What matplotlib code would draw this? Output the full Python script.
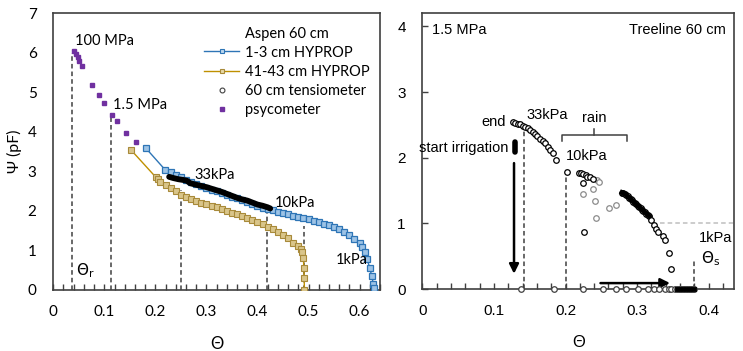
import matplotlib
matplotlib.use('Agg')
import matplotlib.pyplot as plt
from matplotlib.ticker import MultipleLocator

plt.rcParams['font.family'] = ['Lato', 'DejaVu Sans']
plt.rcParams['mathtext.fontset'] = 'dejavusans'

# ---------------- left panel data (Aspen 60 cm) ----------------
psy_theta = [0.0405, 0.0444, 0.0477, 0.0509, 0.0556, 0.075, 0.0888, 0.0986,
             0.116, 0.125, 0.142, 0.162]
psy_pf = [6.05, 5.96, 5.88, 5.79, 5.65, 5.19, 4.92, 4.72, 4.43, 4.26, 3.97, 3.75]

blue_theta = [0.181, 0.219, 0.23, 0.24, 0.25, 0.26, 0.27, 0.28, 0.29, 0.30, 0.31,
              0.32, 0.33, 0.34, 0.35, 0.36, 0.37, 0.38, 0.39, 0.40, 0.41, 0.42,
              0.43, 0.44, 0.45, 0.46, 0.47, 0.48, 0.49, 0.50, 0.51, 0.52, 0.53,
              0.54, 0.55, 0.56, 0.57, 0.58, 0.59, 0.60, 0.605, 0.61, 0.615,
              0.62, 0.624, 0.627, 0.629]
blue_pf = [3.59, 3.04, 2.97, 2.91, 2.85, 2.79, 2.74, 2.69, 2.64, 2.59, 2.54,
           2.50, 2.45, 2.41, 2.36, 2.32, 2.27, 2.22, 2.17, 2.12, 2.08, 2.04,
           2.01, 1.97, 1.94, 1.91, 1.88, 1.85, 1.82, 1.79, 1.75, 1.72, 1.68,
           1.64, 1.60, 1.54, 1.47, 1.38, 1.28, 1.18, 1.08, 0.95, 0.78,
           0.55, 0.35, 0.15, 0.05]

gold_theta = [0.153, 0.201, 0.205, 0.21, 0.22, 0.23, 0.24, 0.25, 0.26, 0.27,
              0.28, 0.29, 0.30, 0.31, 0.32, 0.33, 0.34, 0.35, 0.36, 0.37, 0.38,
              0.39, 0.40, 0.41, 0.42, 0.43, 0.44, 0.45, 0.46, 0.47, 0.48,
              0.485, 0.488, 0.490, 0.491, 0.4915, 0.492]
gold_pf = [3.53, 2.85, 2.80, 2.74, 2.65, 2.57, 2.49, 2.40, 2.35, 2.30, 2.25,
           2.21, 2.17, 2.13, 2.09, 2.04, 2.00, 1.95, 1.91, 1.86, 1.81, 1.76,
           1.71, 1.66, 1.60, 1.54, 1.47, 1.39, 1.31, 1.20, 1.10, 1.04, 0.95,
           0.80, 0.55, 0.30, 0.0]

tens_theta = [0.227, 0.235, 0.245, 0.255, 0.262, 0.268, 0.28, 0.29, 0.30, 0.31,
              0.32, 0.33, 0.34, 0.35, 0.36, 0.37, 0.38, 0.39, 0.40, 0.41, 0.42,
              0.425]
tens_pf = [2.86, 2.83, 2.80, 2.78, 2.76, 2.70, 2.66, 2.63, 2.60, 2.56, 2.52,
           2.48, 2.43, 2.38, 2.33, 2.29, 2.26, 2.21, 2.16, 2.13, 2.09, 2.06]

# dashed reference lines (theta, top pF)
left_refs = [(0.036, 6.0), (0.113, 4.43), (0.251, 2.52), (0.418, 2.0), (0.491, 1.62)]

# ---------------- right panel data (Treeline 60 cm) ----------------
end_theta = [0.126, 0.129, 0.133, 0.136, 0.140, 0.143, 0.147, 0.150, 0.154,
             0.157, 0.160, 0.164, 0.168, 0.171, 0.175, 0.178, 0.182, 0.187]
end_pf = [2.55, 2.53, 2.52, 2.51, 2.49, 2.47, 2.45, 2.42, 2.39, 2.36, 2.33,
          2.29, 2.26, 2.22, 2.17, 2.12, 2.07, 1.97]

irr_theta = [0.130, 0.130, 0.130, 0.130, 0.130, 0.130]
irr_pf = [2.09, 2.12, 2.15, 2.18, 2.21, 2.24]

after_theta = [0.202, 0.219, 0.222, 0.225, 0.229, 0.230, 0.234, 0.238, 0.225, 0.226]
after_pf = [1.79, 1.77, 1.77, 1.75, 1.73, 1.71, 1.71, 1.68, 1.61, 0.87]

rain_theta = [0.244, 0.247, 0.225, 0.239, 0.241, 0.243, 0.261, 0.270]
rain_pf = [1.66, 1.63, 1.44, 1.52, 1.34, 1.08, 1.24, 1.28]

dry_theta = [0.279, 0.281, 0.283, 0.285, 0.287, 0.289, 0.291, 0.293, 0.295,
             0.297, 0.299, 0.301, 0.303, 0.305, 0.307, 0.309, 0.311, 0.313,
             0.315, 0.317, 0.320, 0.324, 0.327, 0.330, 0.336, 0.339, 0.344, 0.348]
dry_pf = [1.47, 1.46, 1.45, 1.43, 1.41, 1.39, 1.37, 1.35, 1.33, 1.31, 1.29,
          1.27, 1.25, 1.23, 1.21, 1.19, 1.17, 1.15, 1.13, 1.11, 1.05, 0.98,
          0.92, 0.87, 0.81, 0.74, 0.55, 0.30]

zero_theta = [0.138, 0.184, 0.225, 0.252, 0.271, 0.284, 0.301, 0.316, 0.324,
              0.331, 0.339, 0.344, 0.348, 0.353, 0.356, 0.358, 0.360, 0.362,
              0.364, 0.366, 0.368, 0.370, 0.372, 0.374, 0.376, 0.378, 0.380]
zero_pf = [0.0] * len(zero_theta)

right_refs = [(0.142, 2.52), (0.201, 1.85), (0.380, 0.44)]

BLUE = '#2E75B6'
GOLD = '#BF9000'
PURPLE = '#7030A0'
DASH = '#404040'

fig = plt.figure(figsize=(7.43, 3.51), dpi=100)
ax1 = fig.add_axes([0.0717, 0.1738, 0.4397, 0.789])
ax2 = fig.add_axes([0.5686, 0.1766, 0.4197, 0.7855])

# ---------------- left ----------------
for th, top in left_refs:
    ax1.plot([th, th], [0, top], ls=(0, (3, 2)), color=DASH, lw=1.1, zorder=1)

ax1.plot(blue_theta, blue_pf, '-', color=BLUE, lw=1, zorder=3)
ax1.plot(blue_theta, blue_pf, 's', color=BLUE, ms=5, mfc='#9DC3E6',
         mec=BLUE, mew=0.9, zorder=3)
ax1.plot(gold_theta, gold_pf, '-', color=GOLD, lw=1, zorder=3)
ax1.plot(gold_theta, gold_pf, 's', ms=4.2, mfc='#D9C58A', mec='#A88A3A',
         mew=0.8, zorder=3)
ax1.plot(tens_theta, tens_pf, '-', color='black', lw=4.2, zorder=4,
         solid_capstyle='round')
ax1.plot(psy_theta, psy_pf, 's', color=PURPLE, ms=3.5, zorder=5)

# legend proxies
h1, = ax1.plot([], [], '-s', color=BLUE, lw=1, ms=3.5, mfc='#BDD7EE', mec=BLUE, mew=0.8)
h2, = ax1.plot([], [], '-s', color=GOLD, lw=1, ms=3.5, mfc='#E8D9A8', mec='#A88A3A', mew=0.8)
h3, = ax1.plot([], [], 'o', color='#404040', ms=3.5, mfc='white', mew=0.8, ls='none')
h4, = ax1.plot([], [], 's', color=PURPLE, ms=3.5, ls='none')
leg = ax1.legend([h1, h2, h3, h4],
                 ['1-3 cm HYPROP', '41-43 cm HYPROP', '60 cm tensiometer', 'psycometer'],
                 title='Aspen 60 cm', loc='upper right', bbox_to_anchor=(1.0, 0.985),
                 frameon=False, fontsize=10.5, title_fontsize=10.5,
                 handlelength=2.4, handletextpad=0.4, labelspacing=0.36,
                 borderaxespad=0.3)
leg._legend_box.sep = 3

ax1.text(0.043, 6.12, '100 MPa', fontsize=10.5, va='bottom')
ax1.text(0.117, 4.5, '1.5 MPa', fontsize=10.5, va='bottom')
ax1.text(0.276, 2.73, '33kPa', fontsize=10.5, va='bottom')
ax1.text(0.434, 2.03, '10kPa', fontsize=10.5, va='bottom')
ax1.text(0.616, 0.76, '1kPa', fontsize=10.5, va='center', ha='right')
ax1.text(0.045, 0.5, r'$\Theta_\mathrm{r}$', fontsize=11, va='center')

ax1.set_xlim(0, 0.64)
ax1.set_ylim(0, 7)
ax1.xaxis.set_major_locator(MultipleLocator(0.1))
ax1.xaxis.set_minor_locator(MultipleLocator(0.02))
ax1.set_xticks([0, 0.1, 0.2, 0.3, 0.4, 0.5, 0.6])
ax1.set_xticklabels(['0', '0.1', '0.2', '0.3', '0.4', '0.5', '0.6'])
ax1.tick_params(axis='x', which='both', direction='in', length=4, width=1,
                colors='#404040', labelcolor='black', labelsize=11, pad=11)
ax1.tick_params(axis='y', which='both', length=0, labelsize=11, pad=12)
ax1.set_ylabel('Ψ (pF)', fontsize=11.5, labelpad=4)
ax1.set_xlabel('Θ', fontsize=12, labelpad=12)
for sp in ax1.spines.values():
    sp.set_color('#404040')
    sp.set_linewidth(1.2)

# ---------------- right ----------------
arial = ['Liberation Sans', 'DejaVu Sans']
for th, top in right_refs:
    ax2.plot([th, th], [0, top], ls=(0, (3, 2)), color=DASH, lw=1.1, zorder=1)
ax2.plot([0.332, 0.436], [1.0, 1.0], ls=(0, (3, 2)), color='#BFBFBF', lw=1.1, zorder=1)

circ = dict(ls='none', marker='o', ms=4, mfc='white', mew=0.9, zorder=4, clip_on=False)
ax2.plot(end_theta, end_pf, mec='black', **circ)
ax2.plot(rain_theta, rain_pf, mec='#8C8C8C', **circ)
ax2.plot(after_theta, after_pf, mec='black', **circ)
ax2.plot(dry_theta, dry_pf, mec='black', **circ)
ax2.plot(dry_theta[:20], dry_pf[:20], '-', color='black', lw=3.5, zorder=4)
ax2.plot(zero_theta, zero_pf, mec='#404040', **circ)
ax2.plot(zero_theta[14:], zero_pf[14:], '-', color='black', lw=3.5, zorder=5, clip_on=False)
ax2.plot(irr_theta, irr_pf, '-', color='black', lw=4, solid_capstyle='round', zorder=4)

ax2.annotate('', xy=(0.128, 0.19), xytext=(0.128, 1.96),
             arrowprops=dict(arrowstyle='-|>', color='black', lw=1.8,
                             mutation_scale=14))
ax2.annotate('', xy=(0.35, 0.09), xytext=(0.245, 0.09),
             arrowprops=dict(arrowstyle='-|>', color='black', lw=1.8,
                             mutation_scale=14))
# rain bracket
ax2.plot([0.195, 0.195, 0.286, 0.286], [2.26, 2.34, 2.34, 2.26], color='#404040', lw=1.1)
ax2.plot([0.240, 0.240], [2.34, 2.43], color='#404040', lw=1.1)

tkw = dict(fontsize=10.5, family=arial)
ax2.text(0.24, 2.5, 'rain', ha='center', va='bottom', **tkw)
ax2.text(0.116, 2.55, 'end', ha='right', va='center', **tkw)
ax2.text(0.146, 2.55, '33kPa', ha='left', va='bottom', **tkw)
ax2.text(0.120, 2.15, 'start irrigation', ha='right', va='center', **tkw)
ax2.text(0.201, 1.92, '10kPa', ha='left', va='bottom', **tkw)
ax2.text(0.387, 0.78, '1kPa', ha='left', va='center', **tkw)
ax2.text(0.389, 0.46, r'$\Theta_\mathrm{s}$', ha='left', va='center', fontsize=11)
ax2.text(0.014, 3.94, '1.5 MPa', ha='left', va='center', **tkw)
ax2.text(0.424, 3.94, 'Treeline 60 cm', ha='right', va='center', **tkw)

ax2.set_xlim(0, 0.436)
ax2.set_ylim(0, 4.2)
ax2.xaxis.set_major_locator(MultipleLocator(0.1))
ax2.xaxis.set_minor_locator(MultipleLocator(0.02))
ax2.set_xticks([0, 0.1, 0.2, 0.3, 0.4])
ax2.set_xticklabels(['0', '0.1', '0.2', '0.3', '0.4'])
ax2.set_yticks([0, 1, 2, 3, 4])
ax2.tick_params(axis='both', which='both', direction='in', length=4, width=1,
                colors='#404040', labelcolor='black', labelsize=11)
ax2.tick_params(axis='x', pad=11)
ax2.tick_params(axis='y', pad=12)
for lab in ax2.get_xticklabels() + ax2.get_yticklabels():
    lab.set_family(arial)
ax2.set_xlabel('Θ', fontsize=12, labelpad=12, family=arial)
for sp in ax2.spines.values():
    sp.set_color('#404040')
    sp.set_linewidth(1.2)

fig.savefig('out.png', dpi=100)
